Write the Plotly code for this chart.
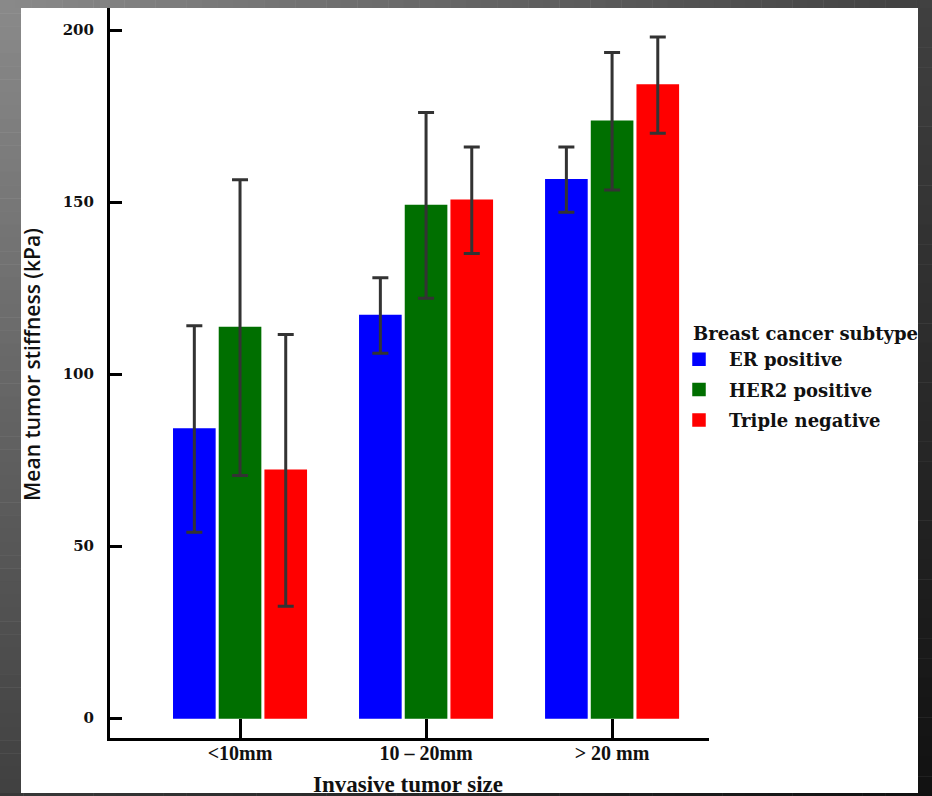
import plotly.graph_objects as go

# Mean tumor stiffness (kPa) by invasive tumor size and breast cancer subtype
sizes = ["<10mm", "10 – 20mm", "> 20 mm"]
er_mean = [84, 117, 156.5]
er_err = [30, 11, 9.5]
her2_mean = [113.5, 149, 173.5]
her2_err = [43, 27, 20]
tn_mean = [72, 150.5, 184]
tn_err = [39.5, 15.5, 14]
y_ticks = [0, 50, 100, 150, 200]

W, H = 932, 796
L, R, T, B = 110, 223, 8, 58
PW = W - L - R
PH = H - T - B


def fx(px):
    return (px - L) / PW


def fy(py):
    return (H - B - py) / PH


fig = go.Figure()

series = [
    ("ER positive", er_mean, er_err, "#0000ff"),
    ("HER2 positive", her2_mean, her2_err, "#006f00"),
    ("Triple negative", tn_mean, tn_err, "#ff0000"),
]
for name, mean, err, color in series:
    fig.add_trace(go.Bar(
        x=sizes, y=mean, name=name, legendgroup=name,
        marker=dict(color=color, line=dict(color=color, width=1.5)),
        error_y=dict(type="data", array=err, color="#333333",
                     thickness=3, width=8),
    ))

# dark gradient frame around the white panel
shapes = []


def grey(v):
    v = int(round(v))
    return f"rgb({v},{v},{v})"


n = 60
for i in range(n):  # left band, light at top to dark at bottom
    y0, y1 = 793 * i / n, 793 * (i + 1) / n + 0.5
    c = 138 - 74 * (i + 0.5) / n
    shapes.append(dict(type="rect", xref="paper", yref="paper", layer="below",
                       x0=fx(0), x1=fx(21), y0=fy(y0), y1=fy(y1),
                       fillcolor=grey(c), line=dict(width=0)))
for i in range(n):  # top band, light at left to dark at right
    x0, x1 = W * i / n, W * (i + 1) / n + 0.5
    c = 138 - 74 * (i + 0.5) / n
    shapes.append(dict(type="rect", xref="paper", yref="paper", layer="below",
                       x0=fx(x0), x1=fx(x1), y0=fy(0), y1=fy(8),
                       fillcolor=grey(c), line=dict(width=0)))
m = 40
for i in range(m):  # right band
    y0, y1 = 8 + 788 * i / m, 8 + 788 * (i + 1) / m + 0.5
    c = 64 - 47 * (i + 0.5) / m
    shapes.append(dict(type="rect", xref="paper", yref="paper", layer="below",
                       x0=fx(918), x1=fx(W), y0=fy(y0), y1=fy(y1),
                       fillcolor=grey(c), line=dict(width=0)))
for i in range(m):  # bottom band
    x0, x1 = W * i / m, W * (i + 1) / m + 0.5
    c = 56 - 39 * (i + 0.5) / m
    shapes.append(dict(type="rect", xref="paper", yref="paper", layer="below",
                       x0=fx(x0), x1=fx(x1), y0=fy(793), y1=fy(H),
                       fillcolor=grey(c), line=dict(width=0)))

serif_bold = dict(family="DejaVu Serif", weight="bold", color="#111111")
times_bold = dict(family="Liberation Serif", weight="bold", color="#111111")

fig.update_layout(
    width=W, height=H, autosize=False,
    margin=dict(l=L, r=R, t=T, b=B, pad=0),
    paper_bgcolor="white", plot_bgcolor="white",
    barmode="group", bargap=0.263, bargroupgap=0.1,
    showlegend=True,
    legend=dict(
        x=fx(669), y=fy(341), xanchor="left", yanchor="top",
        xref="paper", yref="paper",
        font=dict(size=18, **serif_bold),
        itemwidth=50, traceorder="grouped", tracegroupgap=4,
        bgcolor="rgba(0,0,0,0)", borderwidth=0,
    ),
    xaxis=dict(
        type="category", range=[-0.699, 2.521],
        showline=True, linewidth=3, linecolor="black",
        ticks="inside", ticklen=19, tickwidth=2.5, tickcolor="black",
        tickfont=dict(size=20, **times_bold), ticklabelstandoff=-5,
        showgrid=False, zeroline=False, fixedrange=True,
    ),
    yaxis=dict(
        range=[-5.81, 206.4], tickvals=y_ticks,
        showline=True, linewidth=3, linecolor="black",
        ticks="inside", ticklen=12, tickwidth=3, tickcolor="black",
        tickfont=dict(size=15, **serif_bold), ticklabelstandoff=10,
        showgrid=False, zeroline=False, fixedrange=True,
    ),
    shapes=shapes,
    annotations=[
        dict(text="Breast cancer subtype", xref="paper", yref="paper",
             x=fx(691), y=fy(333), xanchor="left", yanchor="middle",
             showarrow=False, font=dict(size=18, **serif_bold)),
        dict(text="Invasive tumor size", xref="paper", yref="paper",
             x=fx(408), y=fy(785), xanchor="center", yanchor="middle",
             showarrow=False, font=dict(size=23, **times_bold)),
        dict(text="Mean tumor stiffness (kPa)", xref="paper", yref="paper",
             x=fx(32), y=fy(365), xanchor="center", yanchor="middle",
             textangle=-90, showarrow=False,
             font=dict(family="Open Sans", weight=600, size=21,
                       color="#111111")),
    ],
)

fig.write_html("out.html")
